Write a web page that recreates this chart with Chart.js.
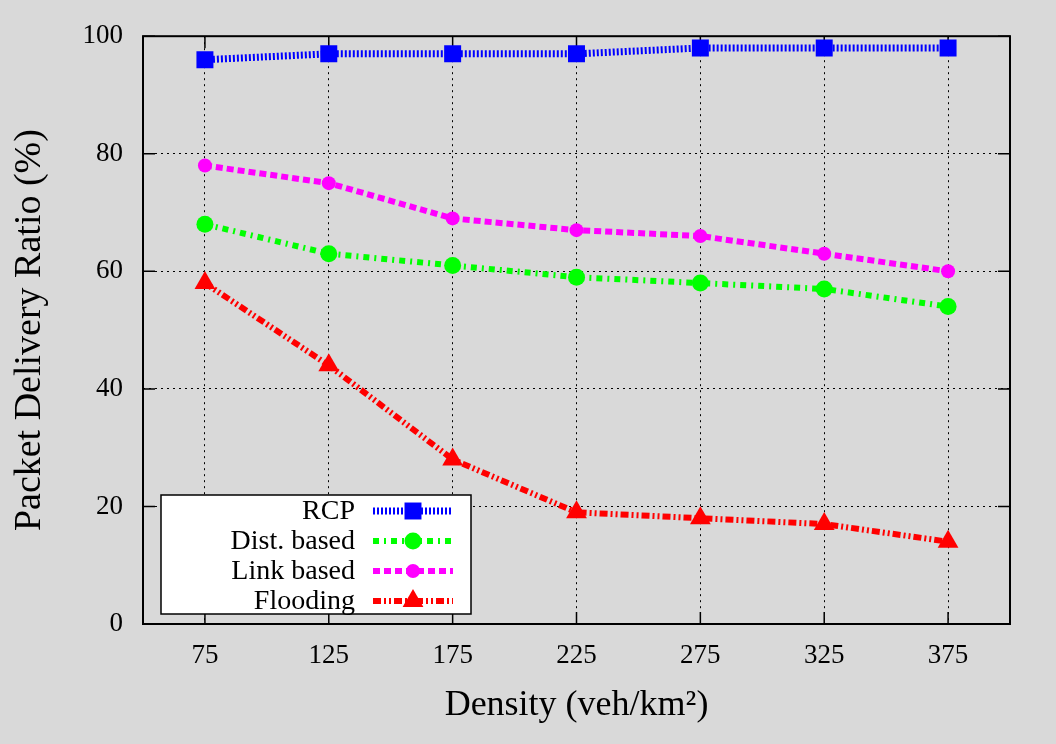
<!DOCTYPE html>
<html>
<head>
<meta charset="utf-8">
<script src="https://cdn.jsdelivr.net/npm/chart.js@4.4.0/dist/chart.umd.min.js"></script>
<style>
  html, body { margin: 0; padding: 0; background: #d9d9d9; }
  #wrap { width: 1056px; height: 744px; }
</style>
</head>
<body>
<div id="wrap"><canvas id="myChart"></canvas></div>
<script>
// density values (veh/km^2)
const density = [75, 125, 175, 225, 275, 325, 375];
const xTicks = [75, 125, 175, 225, 275, 325, 375];
const yTicks = [0, 20, 40, 60, 80, 100];

const rcp = [96, 97, 97, 97, 98, 98, 98];
const distBased = [68, 63, 61, 59, 58, 57, 54];
const linkBased = [78, 75, 69, 67, 66, 63, 60];
const flooding = [58, 44, 28, 19, 18, 17, 14];

const serif = "'Liberation Serif', 'DejaVu Serif', serif";

function pts(ys) {
  return density.map((x, i) => ({ x: x, y: ys[i] }));
}

// frame + inward tick marks + legend box like gnuplot
const framePlugin = {
  id: "frame",
  beforeDatasetsDraw(chart) {
    const a = chart.chartArea;
    const ctx = chart.ctx;
    const xs = chart.scales.x, ys = chart.scales.y;
    ctx.save();
    ctx.strokeStyle = "#000";
    ctx.lineWidth = 1.5;
    ctx.beginPath();
    xTicks.forEach(v => {
      const px = xs.getPixelForValue(v);
      ctx.moveTo(px, a.bottom); ctx.lineTo(px, a.bottom - 12);
      ctx.moveTo(px, a.top); ctx.lineTo(px, a.top + 12);
    });
    yTicks.forEach(v => {
      const py = ys.getPixelForValue(v);
      ctx.moveTo(a.left, py); ctx.lineTo(a.left + 12, py);
      ctx.moveTo(a.right, py); ctx.lineTo(a.right - 12, py);
    });
    ctx.stroke();
    ctx.lineWidth = 2;
    ctx.strokeRect(a.left, a.top, a.right - a.left, a.bottom - a.top);
    ctx.restore();
  },
  afterDraw(chart) {
    const ctx = chart.ctx;
    ctx.save();
    ctx.fillStyle = "#fff";
    ctx.fillRect(161, 495, 310, 119);
    ctx.strokeStyle = "#000";
    ctx.lineWidth = 1.5;
    ctx.strokeRect(161, 495, 310, 119);
    ctx.font = "28px " + serif;
    ctx.textAlign = "right";
    ctx.textBaseline = "middle";
    chart.data.datasets.forEach((ds, i) => {
      const y = 511 + i * 30;
      ctx.fillStyle = "#000";
      ctx.fillText(ds.label, 355, y + 1);
      ctx.strokeStyle = ds.borderColor;
      ctx.lineWidth = ds.borderWidth;
      ctx.setLineDash(ds.borderDash);
      ctx.beginPath();
      ctx.moveTo(373, y); ctx.lineTo(453, y);
      ctx.stroke();
      ctx.setLineDash([]);
      ctx.fillStyle = ds.backgroundColor;
      Chart.helpers.drawPoint(ctx, {
        pointStyle: ds.pointStyle, radius: ds.pointRadius, rotation: 0, borderWidth: 0
      }, 413, y);
    });
    ctx.restore();
  }
};

window.onload = function() {
  const ctx = document.getElementById("myChart").getContext("2d");

  const data = {
    datasets: [
      {
        label: "RCP",
        data: pts(rcp),
        borderColor: "#0000ff",
        backgroundColor: "#0000ff",
        borderWidth: 7,
        borderDash: [2, 2],
        pointStyle: "rect",
        pointRadius: 12,
        pointBorderWidth: 0
      },
      {
        label: "Dist. based",
        data: pts(distBased),
        borderColor: "#00ff00",
        backgroundColor: "#00ff00",
        borderWidth: 6,
        borderDash: [6, 5, 2, 5],
        pointStyle: "circle",
        pointRadius: 8.5,
        pointBorderWidth: 0
      },
      {
        label: "Link based",
        data: pts(linkBased),
        borderColor: "#ff00ff",
        backgroundColor: "#ff00ff",
        borderWidth: 6,
        borderDash: [7, 4],
        pointStyle: "circle",
        pointRadius: 7,
        pointBorderWidth: 0
      },
      {
        label: "Flooding",
        data: pts(flooding),
        borderColor: "#ff0000",
        backgroundColor: "#ff0000",
        borderWidth: 6,
        borderDash: [8, 3, 2, 3, 2, 3],
        pointStyle: "triangle",
        pointRadius: 12,
        pointBorderWidth: 0
      }
    ]
  };

  const options = {
    responsive: true,
    maintainAspectRatio: false,
    animation: false,
    layout: { padding: { top: 36, right: 46, left: 0, bottom: 0 } },
    plugins: { legend: { display: false }, tooltip: { enabled: false } },
    scales: {
      x: {
        type: "linear",
        min: 50,
        max: 400,
        afterBuildTicks: s => { s.ticks = xTicks.map(v => ({ value: v })); },
        afterFit: s => { s.height = 120; },
        grid: { color: "#000", lineWidth: 1, drawTicks: false },
        border: { display: false, dash: [2, 4] },
        ticks: { color: "#000", font: { family: serif, size: 27 }, padding: 16 },
        title: {
          display: true,
          text: "Density (veh/km²)",
          color: "#000",
          font: { family: serif, size: 36 },
          padding: { top: 17, bottom: 17 }
        }
      },
      y: {
        min: 0,
        max: 100,
        afterBuildTicks: s => { s.ticks = yTicks.map(v => ({ value: v })); },
        afterFit: s => { s.width = 143; },
        grid: { color: "#000", lineWidth: 1, drawTicks: false },
        border: { display: false, dash: [2, 4] },
        ticks: { color: "#000", font: { family: serif, size: 27 }, padding: 20 },
        title: {
          display: true,
          text: "Packet Delivery Ratio (%)",
          color: "#000",
          font: { family: serif, size: 38 },
          padding: { top: 7, bottom: 7 }
        }
      }
    }
  };

  new Chart(ctx, {
    type: "line",
    data: data,
    options: options,
    plugins: [framePlugin]
  });
};
</script>
</body>
</html>
